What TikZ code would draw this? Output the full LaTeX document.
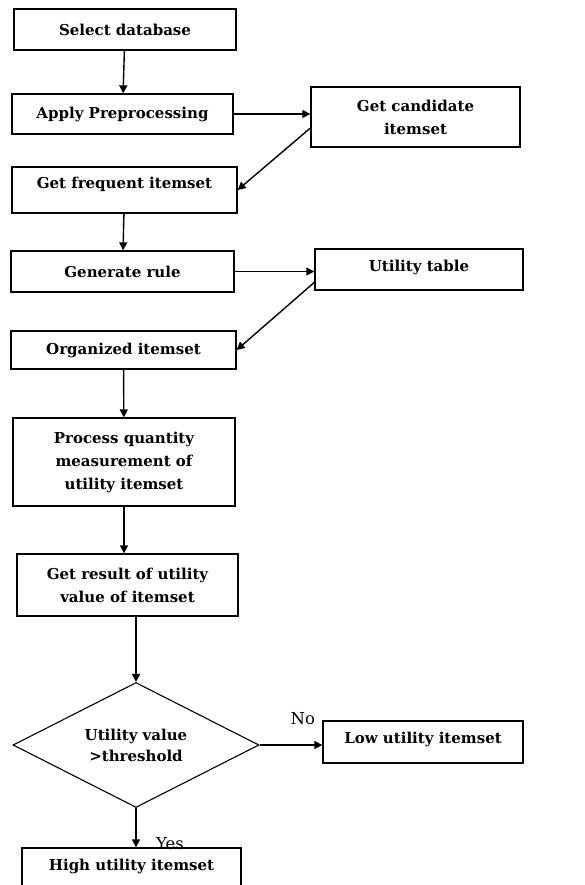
\documentclass[tikz,border=0pt]{standalone}
\usepackage{fontspec}
\setmainfont{DejaVu Serif}
\usetikzlibrary{shapes.geometric, arrows.meta}

\tikzset{
    stage/.style={draw, line width=1.3pt, rectangle, align=center, font=\fontsize{15}{23}\selectfont\bfseries},
    test/.style={draw, line width=1.1pt, diamond, aspect=2.2, inner sep=0pt, align=center, font=\fontsize{15}{21}\selectfont\bfseries},
    flow/.style={line width=1.4pt, -{Triangle[length=8pt, width=8pt]}},
}

\begin{document}
\begin{tikzpicture}[x=1pt, y=-1pt, font=\fontsize{16.5}{19}\selectfont]
    \path[use as bounding box, clip] (0, 0) rectangle (584, 885);

    \node[stage, minimum width=222pt, minimum height=41pt] (db) at (125, 29.5) {Select database};
    \node[stage, minimum width=221pt, minimum height=40pt] (prep) at (122.5, 114) {Apply Preprocessing};
    \node[stage, minimum width=209pt, minimum height=60pt] (cand) at (415.5, 117) {Get candidate\\itemset};
    \node[stage, minimum width=225pt, minimum height=46pt, text depth=14pt] (freq) at (124.5, 190) {Get frequent itemset};
    \node[stage, minimum width=223pt, minimum height=41pt] (rule) at (122.5, 271.5) {Generate rule};
    \node[stage, minimum width=208pt, minimum height=41pt, text depth=7pt] (util) at (419, 269.5) {Utility table};
    \node[stage, minimum width=225pt, minimum height=38pt] (org) at (123.5, 350) {Organized itemset};
    \node[stage, minimum width=222pt, minimum height=88pt] (meas) at (124, 462) {Process quantity\\measurement of\\utility itemset};
    \node[stage, minimum width=221pt, minimum height=62pt] (res) at (127.5, 585) {Get result of utility\\value of itemset};
    \node[test, minimum width=246pt, minimum height=125pt] (dec) at (136, 745) {Utility value\\>threshold};
    \node[stage, minimum width=200pt, minimum height=42pt, text depth=9pt] (low) at (423, 742) {Low utility itemset};
    \node[stage, minimum width=219pt, minimum height=42pt, text depth=9pt] (high) at (131.5, 869) {High utility itemset};

    \draw[flow] (db) -- (prep);
    \draw[flow] (prep.east) -- (prep.east -| cand.west);
    \draw[flow] (cand.186) -- (freq.east);
    \draw[flow] (freq) -- (rule);
    \draw[flow] (rule.east) -- (rule.east -| util.west);
    \draw[flow] (util.187) -- (org.east);
    \draw[flow] (org) -- (meas);
    \draw[flow] (meas.south) -- (meas.south |- res.north);
    \draw[flow] (dec.north |- res.south) -- (dec.north);
    \draw[flow] (dec.east) -- (dec.east -| low.west) node[pos=0.69, yshift=26pt] (no) {No};
    \draw[flow] (dec.south) -- (dec.south |- high.north) node[pos=0.9, xshift=34pt] (yes) {Yes};
\end{tikzpicture}
\end{document}
